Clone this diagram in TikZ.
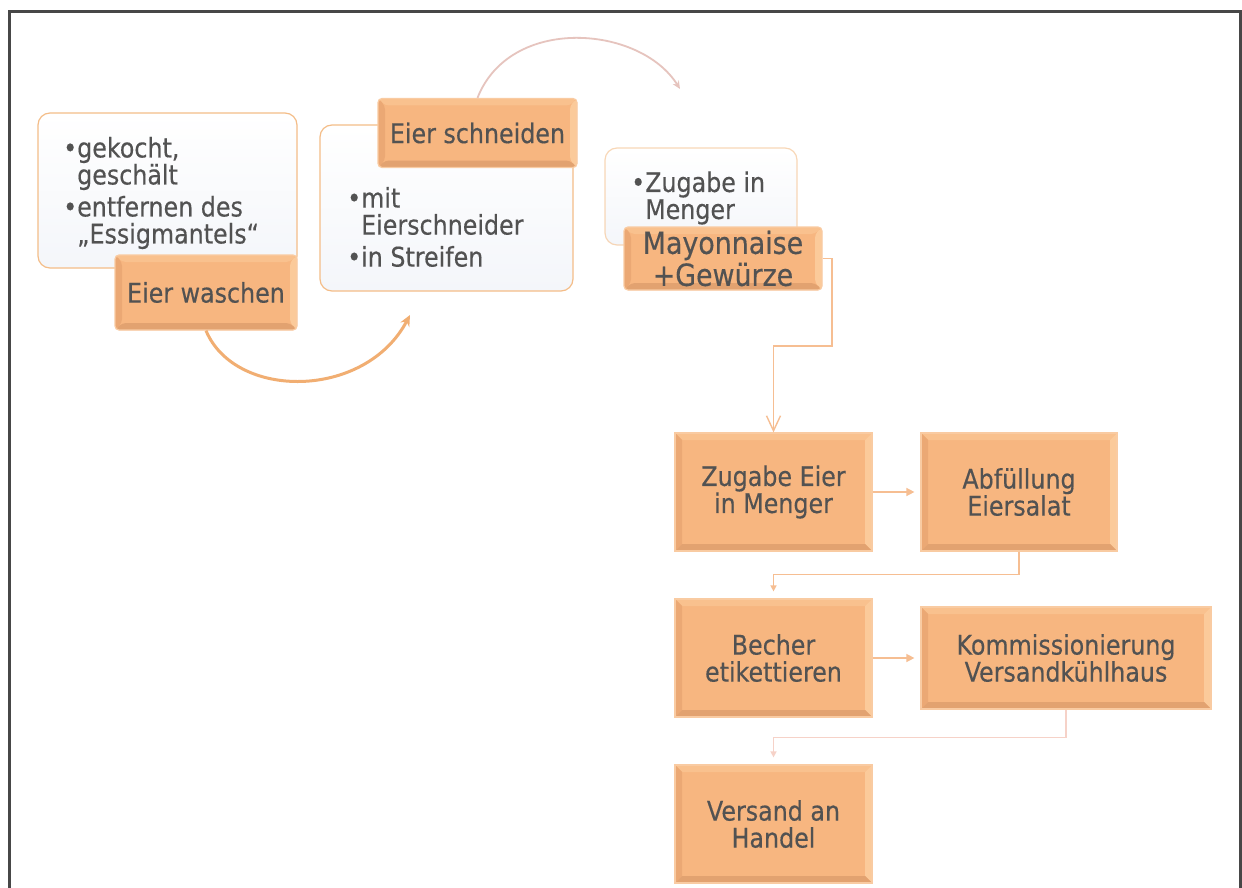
\documentclass[tikz,border=0pt]{standalone}
\usepackage{fontspec}
\setmainfont{DejaVu Sans}[FakeStretch=0.88,FakeBold=0.4]
\usetikzlibrary{calc,arrows.meta}

\definecolor{ink}{HTML}{525252}
\definecolor{frame}{HTML}{474747}
\definecolor{peach}{HTML}{F7B680}
\definecolor{peachedge}{HTML}{F9CBA2}
\definecolor{bevtop}{HTML}{F9C18E}
\definecolor{bevleft}{HTML}{EBA874}
\definecolor{bevright}{HTML}{FBCA9A}
\definecolor{bevbottom}{HTML}{E2A270}
\definecolor{noteedge}{HTML}{F4BD88}
\definecolor{notefill}{HTML}{F4F6FA}
\definecolor{flowline}{HTML}{F6BE92}
\definecolor{paleline}{HTML}{F6D2C8}
\definecolor{swoosh}{HTML}{F1AE72}
\definecolor{rosearc}{HTML}{E6C4BE}

\newcommand{\boxfont}{\fontsize{27}{27}\selectfont}
\newcommand{\notefont}{\fontsize{27}{27}\selectfont}
\newcommand{\bevw}{7pt}

\tikzset{
  stepbox/.style={draw=peachedge, line width=1.2pt, fill=peach, text=ink,
    align=center, font=\boxfont, inner sep=0pt,
    path picture={
      \coordinate (pnw) at (path picture bounding box.north west);
      \coordinate (pne) at (path picture bounding box.north east);
      \coordinate (psw) at (path picture bounding box.south west);
      \coordinate (pse) at (path picture bounding box.south east);
      \coordinate (inw) at ($(pnw)+(\bevw,-\bevw)$);
      \coordinate (ine) at ($(pne)+(-\bevw,-\bevw)$);
      \coordinate (isw) at ($(psw)+(\bevw,\bevw)$);
      \coordinate (ise) at ($(pse)+(-\bevw,\bevw)$);
      \fill[bevtop] (pnw) -- (pne) -- (ine) -- (inw) -- cycle;
      \fill[bevleft] (pnw) -- (inw) -- (isw) -- (psw) -- cycle;
      \fill[bevright] (pne) -- (ine) -- (ise) -- (pse) -- cycle;
      \fill[bevbottom] (psw) -- (isw) -- (ise) -- (pse) -- cycle;
    }},
  tabbox/.style={stepbox, rounded corners=4pt},
  notebox/.style={draw=noteedge, line width=1.2pt, rounded corners=12pt,
    top color=white, bottom color=notefill},
  notetext/.style={anchor=west, align=left, text=ink, font=\notefont, inner sep=0pt},
  conn/.style={draw=flowline, line width=1.4pt},
  faint/.style={draw=paleline, line width=1.4pt},
}

\begin{document}
\begin{tikzpicture}[x=1pt,y=-1pt]
\useasboundingbox (0,0) rectangle (1242,888);
\fill[white] (0,0) rectangle (1242,888);
\begin{scope}
\clip (0,0) rectangle (1242,888);
\draw[frame, line width=3pt] (9,900) -- (9,12) -- (1240,12) -- (1240,900);
\end{scope}

% note cards with bullet points
\node[notebox, minimum width=259pt, minimum height=155pt] (noteA) at (167.5,190.5) {};
\node[notebox, minimum width=253pt, minimum height=166pt] (noteB) at (446.5,208) {};
\node[notebox, minimum width=192pt, minimum height=97pt, draw opacity=0.6] (noteC) at (701,196.5) {};

\node[notetext] (txtA) at (63,193) {•gekocht,\\\hphantom{•}geschält\\[5pt]•entfernen des\\\hphantom{•}„Essigmantels“};
\node[notetext] (txtB) at (347,227) {•mit\\\hphantom{•}Eierschneider\\[5pt]•in Streifen};
\node[notetext] (txtC) at (631,198) {•Zugabe in\\\hphantom{•}Menger};

% title tabs on the cards
\node[tabbox, minimum width=182pt, minimum height=75pt] (wash) at (206,292.5) {Eier waschen};
\node[tabbox, minimum width=199pt, minimum height=69pt] (cut) at (477.5,133) {Eier schneiden};
\node[tabbox, minimum width=198pt, minimum height=63pt, font=\fontsize{30.5}{32}\selectfont] (mayo) at (723,258.5) {Mayonnaise\\+Gewürze};

% process steps
\node[stepbox, minimum width=197pt, minimum height=118pt] (mix) at (773.5,492) {Zugabe Eier\\in Menger};
\node[stepbox, minimum width=196pt, minimum height=118pt] (fill) at (1019,492) {Abfüllung\\Eiersalat};
\node[stepbox, minimum width=197pt, minimum height=118pt] (label) at (773.5,658) {Becher\\etikettieren};
\node[stepbox, minimum width=290pt, minimum height=102pt] (pick) at (1066,658) {Kommissionierung\\Versandkühlhaus};
\node[stepbox, minimum width=197pt, minimum height=118pt] (ship) at (773.5,824) {Versand an\\Handel};

% curved arrows between the cards
\coordinate (arcA) at (410,315);
\coordinate (arcB) at (680,89);
\draw[swoosh, line width=3pt, -{Stealth[length=11pt,width=10pt]}]
  (wash.south) .. controls (235,400) and (365,400) .. (arcA);
\draw[rosearc, line width=1.8pt, -{Stealth[length=8pt,width=7pt]}]
  (cut.north) .. controls (510,15) and (640,25) .. (arcB);

% connectors of the step chain
\draw[conn, -{Straight Barb[length=15pt,width=14pt]}] (mayo.east) -| (832,346) -| (mix.north);
\draw[conn, -{Triangle[length=8pt,width=8pt]}] (mix.east) -- ([xshift=-6pt]fill.west);
\draw[conn, -{Triangle[length=6pt,width=6pt]}] (fill.south) -- ++(0,23) -| ([yshift=7pt]label.north);
\draw[conn, -{Triangle[length=8pt,width=8pt]}] (label.east) -- ([xshift=-6pt]pick.west);
\draw[faint, -{Triangle[length=6pt,width=6pt]}] (pick.south) -- ++(0,28) -| ([yshift=7pt]ship.north);
\end{tikzpicture}
\end{document}
